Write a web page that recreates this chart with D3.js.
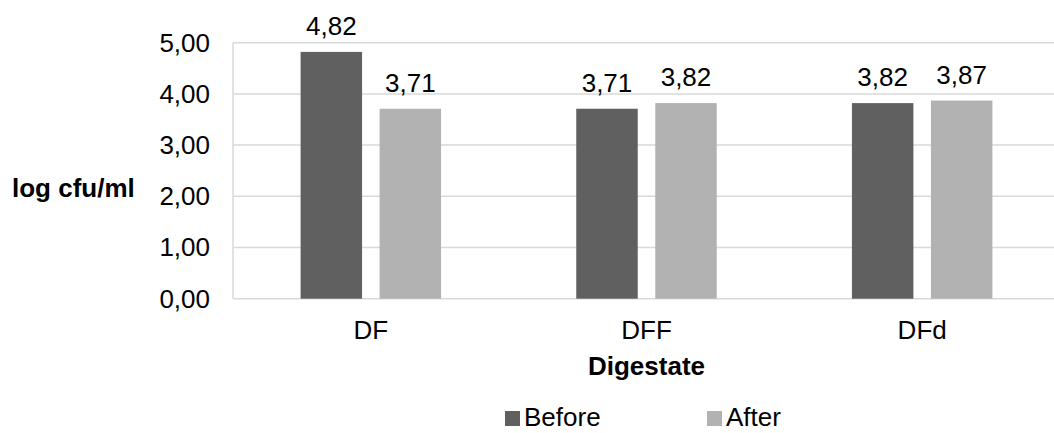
<!DOCTYPE html>
<html>
<head>
<meta charset="utf-8">
<script src="https://cdn.jsdelivr.net/npm/d3@7"></script>
<style>
  body { margin: 0; background: #fff; }
  text { font-family: "Liberation Sans", Arial, sans-serif; fill: #000; }
</style>
</head>
<body>
<div class="canvas"></div>
<script>
const categories = ['DF', 'DFF', 'DFd'];
const series = ['Before', 'After'];
const before = [4.82, 3.71, 3.82];
const after = [3.71, 3.82, 3.87];
const yTicks = [0, 1, 2, 3, 4, 5];

const dims = { width: 1054, height: 433 };
const plot = { left: 233, right: 1060, top: 42.7, bottom: 298.7 };
const fontSize = '26px';
const colour = d3.scaleOrdinal().domain(series).range(['#606060', '#b2b2b2']);
const fmt = v => d3.format('.2f')(v).replace('.', ',');

const svg = d3.select('.canvas')
    .append('svg')
    .attr('width', dims.width)
    .attr('height', dims.height);

const x0 = d3.scaleBand()
    .domain(categories)
    .range([plot.left, plot.right]);

const x1 = d3.scaleBand()
    .domain(series)
    .range([67.6, x0.bandwidth() - 67.6])
    .paddingInner(0.222);

const y = d3.scaleLinear()
    .domain([0, 5])
    .range([plot.bottom, plot.top]);

// gridlines
svg.append('g')
    .selectAll('line')
    .data(yTicks)
    .enter().append('line')
    .attr('x1', plot.left)
    .attr('x2', plot.right)
    .attr('y1', d => y(d))
    .attr('y2', d => y(d))
    .attr('stroke', '#d9d9d9')
    .attr('stroke-width', 1.5);

svg.append('line')
    .attr('x1', plot.left).attr('x2', plot.left)
    .attr('y1', y(5)).attr('y2', y(0))
    .attr('stroke', '#d9d9d9')
    .attr('stroke-width', 1.5);

// y axis labels
const yAxis = d3.axisLeft(y).tickValues(yTicks).tickFormat(fmt).tickSize(0).tickPadding(23);
const yg = svg.append('g')
    .attr('transform', `translate(${plot.left}, 0)`)
    .call(yAxis);
yg.select('.domain').remove();
yg.selectAll('text')
    .style('font-size', fontSize)
    .attr('fill', '#000');

// bars
const rows = categories.map((c, i) => ({ cat: c, values: [before[i], after[i]] }));

const groups = svg.append('g')
    .selectAll('g')
    .data(rows)
    .enter().append('g')
    .attr('transform', d => `translate(${x0(d.cat)}, 0)`);

groups.selectAll('rect')
    .data(d => series.map((s, j) => ({ s, v: d.values[j] })))
    .enter().append('rect')
    .attr('x', d => x1(d.s))
    .attr('width', x1.bandwidth())
    .attr('y', d => y(d.v))
    .attr('height', d => y(0) - y(d.v))
    .attr('fill', d => colour(d.s));

groups.selectAll('text.lbl')
    .data(d => series.map((s, j) => ({ s, v: d.values[j] })))
    .enter().append('text')
    .attr('class', 'lbl')
    .attr('x', d => x1(d.s) + x1.bandwidth() / 2)
    .attr('y', d => y(d.v) - 17)
    .attr('text-anchor', 'middle')
    .style('font-size', fontSize)
    .text(d => fmt(d.v));

// x axis labels
const xAxis = d3.axisBottom(x0).tickSize(0).tickPadding(0);
const xg = svg.append('g')
    .call(xAxis);
xg.select('.domain').remove();
xg.selectAll('text')
    .attr('y', 339)
    .attr('dy', null)
    .style('font-size', fontSize)
    .attr('fill', '#000');

// axis titles
svg.append('text')
    .attr('x', (plot.left + plot.right) / 2)
    .attr('y', 375)
    .attr('text-anchor', 'middle')
    .style('font-size', fontSize)
    .style('font-weight', 'bold')
    .text('Digestate');

svg.append('text')
    .attr('x', 12)
    .attr('y', 197)
    .style('font-size', fontSize)
    .style('font-weight', 'bold')
    .text('log cfu/ml');

// legend
const legend = svg.append('g')
    .selectAll('g')
    .data(series)
    .enter().append('g')
    .attr('transform', (d, i) => `translate(${505 + i * 202}, 0)`);

legend.append('rect')
    .attr('x', 0)
    .attr('y', 411)
    .attr('width', 15)
    .attr('height', 15)
    .attr('fill', d => colour(d));

legend.append('text')
    .attr('x', 19)
    .attr('y', 426)
    .style('font-size', fontSize)
    .text(d => d);
</script>
</body>
</html>
